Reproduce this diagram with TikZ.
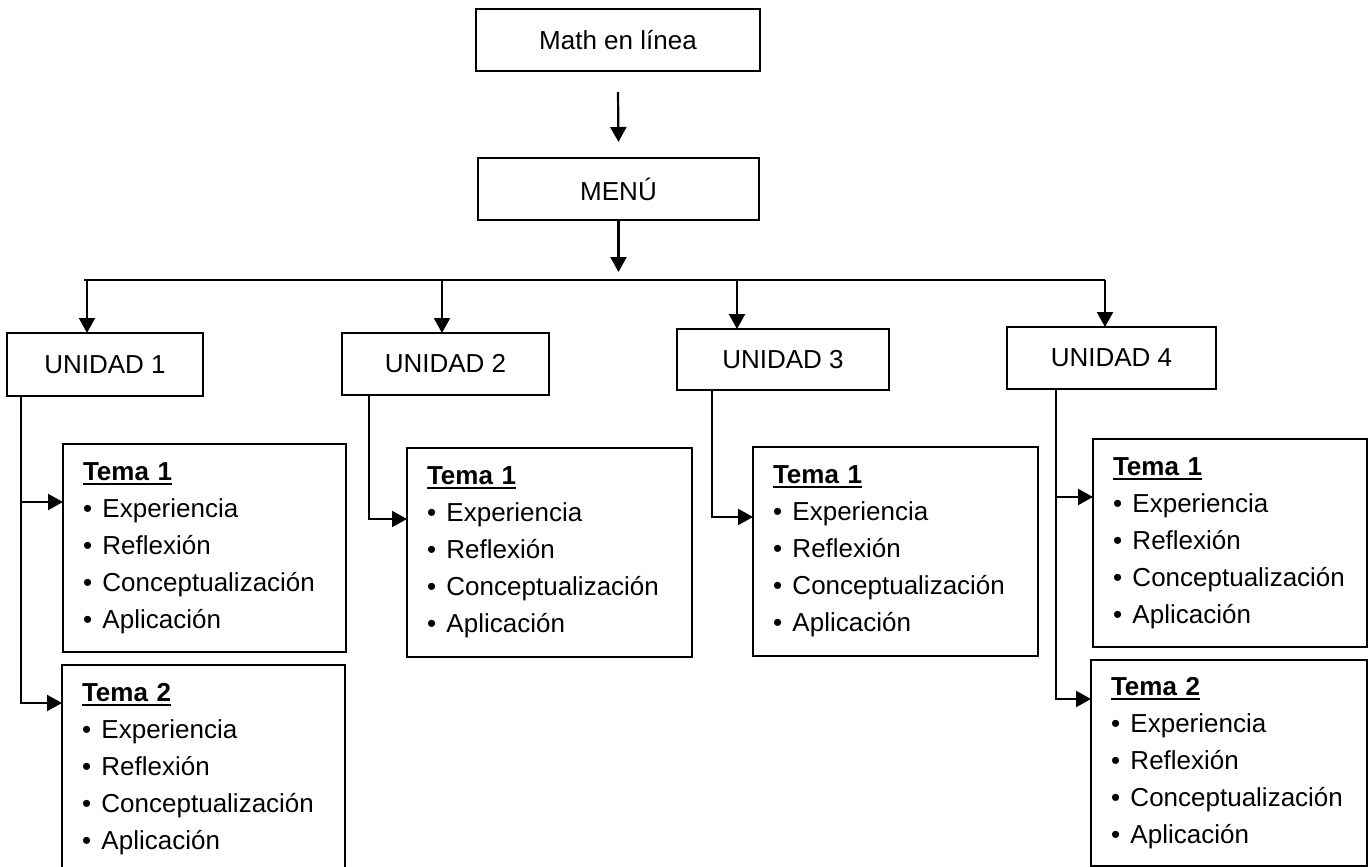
\documentclass[tikz,border=0pt]{standalone}
\usepackage{fontspec}
\setmainfont{Liberation Sans}
\usetikzlibrary{arrows.meta}
\newcommand\temahead[1]{\setbox0\hbox{\bfseries #1}\rlap{\rule[-4.5pt]{\wd0}{2.2pt}}\box0}
\newcommand\itm{\textbullet\hspace{0.4em}}
\newcommand\temalist[1]{\temahead{#1}\\\itm Experiencia\\\itm Reflexión\\\itm Conceptualización\\\itm Aplicación}
\begin{document}
\begin{tikzpicture}[x=1pt,y=-1pt,
  box/.style={draw, line width=1.3pt, rectangle, inner sep=0pt, outer sep=0pt},
  unit/.style={box, font=\fontsize{26}{30}\selectfont},
  tema/.style={box, anchor=north west, inner xsep=20pt, inner ysep=0pt, align=left, font=\fontsize{26}{37}\selectfont},
  arr/.style={line width=2.2pt, -{Triangle[length=15pt,width=16pt]}},
  conn/.style={line width=1.8pt}]
\useasboundingbox (0,0) rectangle (1369,867);

\node[unit, minimum width=284pt, minimum height=62pt] (math) at (618,40) {Math en línea};
\node[unit, minimum width=281pt, minimum height=62pt] (menu) at (618.5,189) {MENÚ};

\node[unit, minimum width=196pt, minimum height=63pt] (u1) at (105,364.5) {UNIDAD 1};
\node[unit, minimum width=207pt, minimum height=62pt] (u2) at (445.5,364) {UNIDAD 2};
\node[unit, minimum width=212pt, minimum height=61pt] (u3) at (783,359.5) {UNIDAD 3};
\node[unit, minimum width=209pt, minimum height=62pt] (u4) at (1111.5,358) {UNIDAD 4};

\node[tema, text width=243pt, minimum height=208pt] (t11) at (63,444) {\temalist{Tema 1}};
\node[tema, text width=243pt, minimum height=208pt] (t12) at (62,665) {\temalist{Tema 2}};
\node[tema, text width=245pt, minimum height=209pt] (t21) at (407,448) {\temalist{Tema 1}};
\node[tema, text width=245pt, minimum height=209pt] (t31) at (753,447) {\temalist{Tema 1}};
\node[tema, text width=234pt, minimum height=208pt] (t41) at (1093,439) {\temalist{Tema 1}};
\node[tema, text width=236pt, minimum height=206pt] (t42) at (1091,660) {\temalist{Tema 2}};

% top arrows
\draw[arr] ([yshift=-21pt]math.south) -- ([yshift=16pt]menu.north);
\coordinate (busL) at (84,280);
\coordinate (busR) at (1105,280);
\coordinate (m2) at (618.5,272);
\draw[arr] (menu.south) -- (m2);
\draw[conn] (busL) -- (busR);

\coordinate (a1) at ([xshift=80pt]u1.north west);
\coordinate (a2) at ([xshift=100pt]u2.north west);
\coordinate (a3) at ([xshift=60pt]u3.north west);
\coordinate (a4) at ([xshift=98pt]u4.north west);
\draw[arr] (a1 |- busL) -- (a1);
\draw[arr] (a2 |- busL) -- (a2);
\draw[arr] (a3 |- busL) -- (a3);
\draw[arr] (busR) -- (a4);

% unit to tema connectors
\draw[arr] ([xshift=14pt]u1.south west) |- ([yshift=-58pt]t11.north west);
\draw[arr] ([xshift=14pt]u1.south west) |- ([yshift=-38pt]t12.north west);
\draw[arr] ([xshift=27pt]u2.south west) |- ([yshift=-71pt]t21.north west);
\draw[arr] ([xshift=35pt]u3.south west) |- ([yshift=-70pt]t31.north west);
\draw[arr] ([xshift=49pt]u4.south west) |- ([yshift=-58pt]t41.north west);
\draw[arr] ([xshift=49pt]u4.south west) |- ([yshift=-39pt]t42.north west);
\end{tikzpicture}
\end{document}
